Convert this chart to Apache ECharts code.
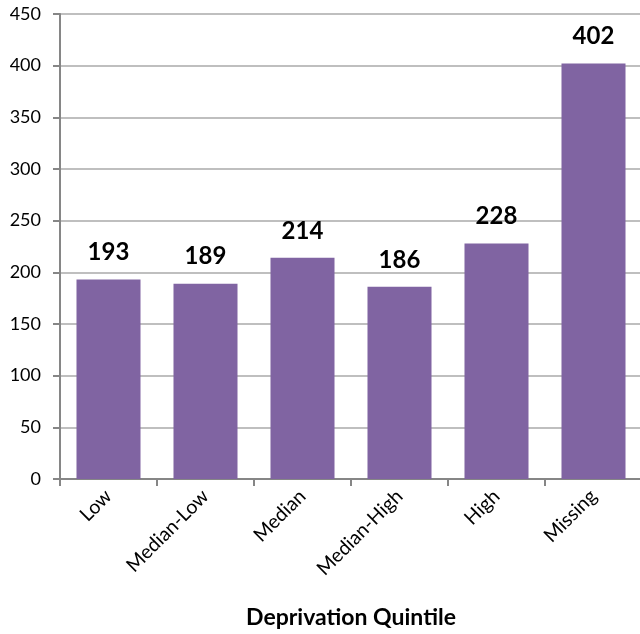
<!DOCTYPE html>
<html><head><meta charset="utf-8">
<script src="https://cdn.jsdelivr.net/npm/echarts@6/dist/echarts.min.js"></script>
<style>html,body{margin:0;padding:0;background:#fff}#c{width:640px;height:634px}</style>
</head><body><div id="c"></div>
<script>
const categories = ["Low","Median-Low","Median","Median-High","High","Missing"];
const values = [193,189,214,186,228,402];
const axisTitle = "Deprivation Quintile";
const font = "Lato, 'Open Sans', sans-serif";
const chart = echarts.init(document.getElementById('c'));
chart.setOption({
  animation:false,
  grid:{left:60,top:14,width:582,height:465,containLabel:false,outerBoundsMode:'none'},
  xAxis:{type:'category',data:categories,
    name:axisTitle,nameLocation:'middle',nameGap:127,
    nameTextStyle:{fontFamily:font,fontWeight:'bold',fontSize:23,color:'#000'},
    axisLine:{lineStyle:{color:'#868686',width:2}},
    axisTick:{show:true,length:7,lineStyle:{color:'#868686',width:2}},
    axisLabel:{rotate:45,fontFamily:font,fontSize:19.5,color:'#000',margin:14,interval:0}},
  yAxis:{type:'value',min:0,max:450,interval:50,
    axisLine:{show:true,lineStyle:{color:'#868686',width:2}},
    axisTick:{show:true,length:7,lineStyle:{color:'#868686',width:2}},
    splitLine:{lineStyle:{color:'#BFBFBF',width:2}},
    axisLabel:{fontFamily:font,fontSize:18,color:'#000',margin:19}},
  series:[{type:'bar',data:values,barCategoryGap:'34%',
    itemStyle:{color:'#8064A2'},
    label:{show:true,position:'top',distance:15,fontFamily:font,fontWeight:'bold',fontSize:24,color:'#000'}}]
});
</script></body></html>
